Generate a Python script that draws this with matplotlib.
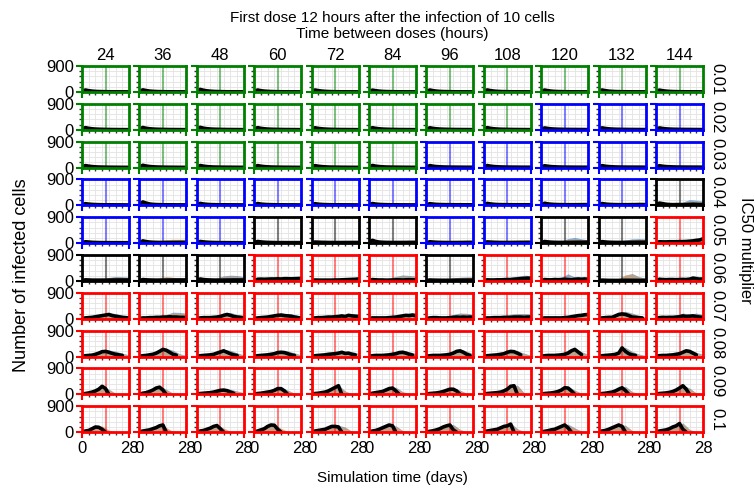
import numpy as np
import matplotlib
matplotlib.use("Agg")
import matplotlib.pyplot as plt
from matplotlib.ticker import MultipleLocator

plt.rcParams['font.family'] = ['Liberation Sans', 'DejaVu Sans']

# column / row categories
dose_interval = [24, 36, 48, 60, 72, 84, 96, 108, 120, 132, 144]
ic50_mult = ['0.01', '0.02', '0.03', '0.04', '0.05', '0.06', '0.07', '0.08', '0.09', '0.1']

# outcome class of each panel (frame colour): G green, B blue, K black, R red
outcome = [
    "GGGGGGGGGGG",
    "GGGGGGGGBBB",
    "GGGGGGBBBBB",
    "BBBBBBBBBBK",
    "BBBKKKBBKKR",
    "KKKRRRKRRKR",
    "RRRRRRRRRRR",
    "RRRRRRRRRRR",
    "RRRRRRRRRRR",
    "RRRRRRRRRRR",
]
outcome_colors = {'G': '#008000', 'B': '#0000ff', 'K': '#000000', 'R': '#ff0000'}

# median infected cells, sampled every 2 days (0..28); None = run ended
days_line = np.arange(0, 29, 2)
median_cells = [
    [[10,70,45,30,20,15,12,10,8,7,6,5,5,4,4],
     [10,75,50,32,22,16,12,10,8,7,6,5,5,4,4],
     [10,90,60,40,28,20,15,12,10,8,7,6,5,5,4],
     [10,70,45,30,22,16,12,10,8,7,6,5,5,4,4],
     [10,70,48,32,22,16,12,10,8,7,6,5,5,4,4],
     [10,65,45,30,20,15,12,10,8,7,6,5,5,4,4],
     [10,70,45,30,20,15,12,10,8,7,6,5,5,4,4],
     [10,72,48,32,22,16,12,10,8,7,6,5,5,4,4],
     [10,68,45,30,20,15,12,10,8,7,6,5,5,4,4],
     [10,70,46,30,21,15,12,10,8,7,6,5,5,4,4],
     [10,66,44,30,20,15,12,10,8,7,6,5,5,4,4]],
    [[10,75,50,35,25,20,16,13,11,9,8,7,6,5,5],
     [10,80,52,36,26,20,16,13,11,9,8,7,6,5,5],
     [10,85,55,38,27,21,17,14,12,10,9,8,7,6,5],
     [10,75,50,35,25,20,16,13,11,9,8,7,6,5,5],
     [10,70,48,34,25,19,15,12,10,9,8,7,6,5,5],
     [10,72,50,35,25,20,16,13,11,9,8,7,6,5,5],
     [10,70,48,34,25,20,16,13,11,10,9,8,7,6,6],
     [10,75,50,35,26,20,17,14,12,10,9,8,7,6,6],
     [10,65,45,32,25,20,17,15,13,12,11,10,9,8,8],
     [10,68,46,33,25,20,17,15,13,12,11,10,9,8,8],
     [10,66,45,32,25,20,17,15,13,12,11,10,9,8,8]],
    [[10,70,50,35,26,20,17,15,13,12,11,10,9,8,8],
     [10,80,55,38,28,22,18,15,13,12,11,10,9,8,8],
     [10,72,50,35,26,20,17,15,14,13,12,11,10,9,9],
     [10,70,48,34,26,20,17,15,13,12,11,10,9,8,8],
     [10,68,47,34,26,20,17,15,13,12,11,10,9,8,8],
     [10,75,50,36,27,21,18,16,14,13,12,11,10,9,9],
     [10,70,48,35,27,22,19,17,16,15,14,13,12,12,12],
     [10,72,50,36,28,23,20,18,17,16,15,14,13,13,13],
     [10,65,46,34,27,22,19,17,16,15,14,14,13,13,13],
     [10,68,47,35,28,23,20,18,17,16,16,15,15,14,14],
     [10,66,46,35,28,24,21,19,18,17,17,16,16,15,15]],
    [[10,60,45,35,28,25,22,20,20,19,18,18,17,16,16],
     [10,120,80,50,35,28,25,22,20,20,19,18,18,17,17],
     [10,70,48,36,28,25,22,20,20,19,18,18,17,16,16],
     [10,65,45,35,28,25,22,20,20,19,18,18,17,16,16],
     [10,60,42,33,27,24,22,20,20,19,18,18,17,16,16],
     [10,65,45,35,28,25,22,20,20,19,18,18,17,16,16],
     [10,60,45,35,30,27,25,24,23,22,22,21,21,20,20],
     [10,70,50,38,30,27,25,24,23,22,22,22,22,22,22],
     [10,75,52,40,32,28,26,25,24,24,24,25,26,26,26],
     [10,65,46,36,30,27,25,24,24,25,26,27,28,28,28],
     [10,80,60,40,30,25,28,30,25,30,35,40,35,30,30]],
    [[10,50,40,30,25,22,20,20,19,18,18,18,17,17,17],
     [10,80,55,40,32,28,26,25,25,25,26,27,28,28,28],
     [10,60,45,35,28,25,22,20,20,19,18,18,17,17,17],
     [10,60,45,35,28,25,22,20,20,20,20,20,20,20,20],
     [10,40,35,30,28,25,24,23,23,23,24,24,25,25,25],
     [10,100,60,40,32,28,26,25,25,25,26,26,27,27,27],
     [10,50,40,32,28,25,24,23,23,24,25,26,27,28,28],
     [10,45,38,32,28,26,25,25,26,27,28,30,30,32,32],
     [10,60,45,35,30,28,27,27,28,30,32,33,34,35,35],
     [10,55,42,34,30,28,27,27,28,30,32,34,35,36,36],
     [10,50,45,45,50,50,50,55,55,60,70,80,100,110,150]],
    [[10,40,35,30,30,30,30,30,32,34,35,36,36,36,36],
     [10,50,40,35,32,30,30,30,32,34,35,35,36,36,36],
     [10,70,50,40,35,32,30,30,32,34,35,36,36,36,36],
     [10,60,65,60,65,70,70,75,70,80,80,75,80,85,90],
     [10,35,30,30,30,30,30,35,35,40,45,50,55,60,70],
     [10,50,40,35,35,30,30,35,40,40,35,40,45,40,40],
     [10,35,30,28,26,25,25,26,28,30,30,32,32,32,32],
     [10,40,35,35,40,40,45,50,50,60,70,80,90,100,90],
     [10,50,40,40,50,45,50,60,50,40,60,70,60,70,60],
     [10,30,25,22,20,20,20,22,25,25,24,24,22,22,22],
     [10,60,50,45,50,50,45,50,55,50,60,100,80,60,70]],
    [[10,30,40,50,70,90,110,130,150,110,90,70,50,40,30],
     [10,30,30,40,40,50,50,60,60,70,60,60,50,50,40],
     [10,30,40,40,40,50,60,80,120,150,120,80,60,50,40],
     [10,30,40,50,60,80,100,120,130,110,100,90,60,40,30],
     [10,30,40,40,50,60,60,70,80,100,80,120,100,90,80],
     [10,30,30,30,30,30,40,50,60,80,100,120,110,130,100],
     [10,30,40,40,30,30,30,40,50,60,50,60,50,60,50],
     [10,30,30,40,40,40,50,50,50,60,60,60,50,60,60],
     [10,30,30,30,30,30,30,40,50,70,90,110,120,140,150],
     [10,30,40,50,50,100,150,170,150,110,60,50,40,30],
     [10,40,50,45,50,50,60,70,100,80,90,100,80,60,50]],
    [[10,30,40,50,80,120,170,180,150,110,80,60,40],
     [10,30,40,60,80,120,180,250,220,150,80,50],
     [10,30,40,50,60,80,120,160,200,150,100,60,40],
     [10,30,40,50,60,80,100,140,150,140,100,60,40],
     [10,30,40,50,60,80,90,100,120,150,110,120,80,60],
     [10,30,40,40,40,50,60,80,100,140,150,120,80,50],
     [10,30,40,40,40,50,60,80,120,180,200,150,80,40],
     [10,30,40,50,60,80,100,150,180,170,120,60],
     [10,30,40,40,40,50,60,80,120,200,250,160,70],
     [10,30,40,50,60,80,120,300,180,100,60,40],
     [10,30,40,40,50,60,80,100,150,200,180,120,60]],
    [[10,30,50,80,120,180,280,200,0],
     [10,40,60,100,150,220,250,150,0],
     [10,30,40,50,60,80,110,140,150,130,80,40],
     [10,30,40,60,80,100,140,200,200,120,0],
     [10,30,40,60,80,120,180,240,300,0],
     [10,40,60,80,100,150,200,220,120,0],
     [10,30,40,50,70,100,140,180,180,120,0],
     [10,30,40,50,60,80,120,180,280,300,0],
     [10,30,40,50,70,100,150,230,220,120,0],
     [10,30,40,60,80,120,180,230,130,0],
     [10,30,40,50,70,100,150,220,300,180,0]],
    [[10,40,60,120,180,170,100,0],
     [10,40,60,80,120,160,220,250,0],
     [10,40,60,100,140,200,230,120,0],
     [10,40,80,120,200,250,240,100,0],
     [10,40,60,80,100,150,200,200,180,0],
     [10,40,60,100,150,200,250,220,0],
     [10,30,50,80,120,180,220,250,80,0],
     [10,40,60,80,100,150,200,220,280,0],
     [10,30,50,80,100,150,200,250,150,0],
     [10,40,60,100,150,200,250,200,0],
     [10,40,60,80,120,180,220,300,100,0]],
]

# upper edge of the two spread bands, sampled every 4 days (0..28)
days_band = np.arange(0, 29, 4)
blue_upper = [
    [[15,60,35,25,18,14,12,10],[15,65,38,26,18,14,12,10],[15,70,40,28,20,15,12,10],
     [15,60,35,25,18,14,12,10],[15,60,36,25,18,14,12,10],[15,58,34,24,18,14,12,10],
     [15,60,35,25,18,14,12,10],[15,62,36,25,18,14,12,10],[15,58,35,25,18,14,12,10],
     [15,60,35,25,18,14,12,10],[15,58,34,24,18,14,12,10]],
    [[15,62,38,28,22,18,15,12],[15,66,40,28,22,18,15,12],[15,70,42,30,22,18,15,12],
     [15,62,38,28,22,18,15,12],[15,60,36,27,21,17,14,12],[15,62,38,28,22,18,15,12],
     [15,60,37,28,22,18,15,13],[15,62,38,28,22,18,16,14],[15,58,36,30,26,24,22,20],
     [15,60,36,30,26,24,22,20],[15,58,36,30,26,24,22,20]],
    [[15,60,38,30,24,20,18,16],[15,66,42,32,25,21,18,16],[15,50,30,25,30,80,30,15],
     [15,60,38,30,24,20,18,16],[15,58,37,30,24,20,18,16],[15,62,40,31,25,21,19,17],
     [15,55,35,30,35,40,40,40],[15,58,36,32,36,42,42,40],[15,55,35,30,35,40,42,42],
     [15,56,36,32,38,44,44,42],[15,55,36,32,38,44,46,44]],
    [[15,70,50,50,60,60,50,40],[15,120,60,45,40,45,45,40],[15,70,45,40,40,45,45,40],
     [15,68,45,40,40,45,45,40],[15,65,44,40,40,45,45,40],[15,68,45,40,42,46,45,40],
     [15,62,44,42,45,50,52,50],[15,60,40,40,50,70,90,100],[15,60,40,45,60,80,100,110],
     [15,60,40,45,70,90,110,100],[15,90,60,60,120,200,180,150]],
    [[15,60,50,50,60,60,55,50],[15,90,60,80,110,120,120,120],[15,70,50,45,50,55,55,50],
     [15,70,50,70,100,90,60,60],[15,50,40,50,70,80,90,80],[15,110,60,60,70,90,100,100],
     [15,60,50,60,70,90,100,100],[15,55,45,50,60,80,90,90],[15,70,60,80,160,200,150,120],
     [15,65,55,70,110,150,160,150],[15,70,70,80,90,110,160,230]],
    [[15,60,60,80,120,160,150,130],[15,70,60,100,140,120,100,90],[15,80,60,100,180,200,190,150],
     [15,90,110,120,120,130,140,140],[15,50,50,60,70,90,110,130],[15,70,70,100,160,210,190,170],
     [15,55,50,60,100,130,140,140],[15,60,70,90,130,170,200,190],[15,80,80,130,250,130,140,120],
     [15,50,50,80,200,260,150,100],[15,90,80,90,110,150,170,140]],
    [[15,60,90,150,220,180,120,70],[15,60,70,90,150,230,220,200],[15,60,70,100,170,220,150,100],
     [15,60,90,150,200,180,150,90],[15,60,70,100,130,150,180,150],[15,50,50,70,100,160,200,210],
     [15,60,60,80,150,200,190,150],[15,50,60,80,160,180,180,170],[15,50,50,60,90,140,190,220],
     [15,60,80,180,260,200,110,70],[15,80,80,110,200,160,200,150]],
    [[15,60,110,220,230,190,120,60],[15,60,110,230,290,220,100,40],[15,60,90,160,250,220,130,60],
     [15,60,100,160,200,200,130,60],[15,60,90,130,170,180,170,120],[15,50,70,100,160,220,170,110],
     [15,50,70,110,200,260,190,100],[15,60,90,160,220,200,120,50],[15,50,70,110,230,280,170,80],
     [15,60,100,200,320,180,90,40],[15,50,80,130,220,240,150,80]],
    [[15,70,140,320,180,40,0,0],[15,80,160,300,180,40,0,0],[15,60,90,160,200,180,120,60],
     [15,70,110,180,250,150,40,0],[15,70,110,200,330,120,20,0],[15,80,130,240,250,100,20,0],
     [15,70,100,170,220,150,40,0],[15,60,90,150,290,320,60,0],[15,60,100,200,270,150,40,0],
     [15,70,110,220,280,100,20,0],[15,60,100,180,320,220,50,0]],
    [[15,80,210,200,60,0,0,0],[15,80,140,260,150,20,0,0],[15,80,150,260,130,20,0,0],
     [15,90,220,280,120,20,0,0],[15,80,120,200,240,180,30,0],[15,80,160,260,220,60,0,0],
     [15,70,130,230,270,100,10,0],[15,80,130,220,320,120,20,0],[15,70,130,230,280,150,40,0],
     [15,80,150,260,240,60,0,0],[15,80,130,240,320,100,10,0]],
]
orange_upper = [
    [[12,45,28,20,14,10,8,6],[12,48,30,20,14,10,8,6],[12,52,32,22,15,11,8,6],
     [12,45,28,20,14,10,8,6],[12,46,28,20,14,10,8,6],[12,44,27,19,14,10,8,6],
     [12,45,28,20,14,10,8,6],[12,46,28,20,14,10,8,6],[12,44,28,20,14,10,8,6],
     [12,45,28,20,14,10,8,6],[12,44,27,19,14,10,8,6]],
    [[12,48,30,22,17,14,12,10],[12,50,32,22,17,14,12,10],[12,54,33,24,18,14,12,10],
     [12,48,30,22,17,14,12,10],[12,46,29,21,16,13,11,10],[12,48,30,22,17,14,12,10],
     [12,46,30,22,17,14,12,11],[12,48,30,22,17,14,13,12],[12,45,29,24,21,19,18,17],
     [12,46,29,24,21,19,18,17],[12,45,29,24,21,19,18,17]],
    [[12,46,30,24,19,16,15,13],[12,50,33,25,20,17,15,13],[12,40,25,20,22,45,22,12],
     [12,46,30,24,19,16,15,13],[12,45,29,24,19,16,15,13],[12,48,32,25,20,17,16,14],
     [12,45,30,25,28,30,30,30],[12,46,30,26,29,32,32,30],[12,44,29,25,28,31,32,32],
     [12,45,30,26,30,33,33,32],[12,44,30,26,30,33,34,33]],
    [[12,55,40,40,45,45,40,35],[12,100,50,40,35,40,40,35],[12,55,35,30,30,35,35,30],
     [12,54,35,30,30,35,35,30],[12,52,34,30,30,35,35,30],[12,54,35,30,32,36,35,30],
     [12,50,35,33,35,40,42,40],[12,50,35,35,45,60,80,90],[12,50,35,40,50,70,90,100],
     [12,50,35,40,60,80,90,90],[12,70,50,50,90,140,120,100]],
    [[12,50,40,40,45,45,45,40],[12,70,60,90,120,140,140,140],[12,55,40,40,45,45,45,40],
     [12,55,45,60,80,70,50,50],[12,45,35,45,60,70,80,70],[12,90,50,55,60,80,100,110],
     [12,50,40,50,60,80,90,90],[12,45,40,45,50,70,80,80],[12,55,50,60,120,140,120,100],
     [12,55,45,60,90,120,130,120],[12,60,60,70,80,100,140,200]],
    [[12,55,55,70,110,140,130,120],[12,60,60,110,160,130,100,90],[12,70,55,90,150,160,150,130],
     [12,80,100,110,110,120,130,130],[12,45,45,55,60,80,100,120],[12,60,60,90,140,170,160,150],
     [12,50,45,55,90,120,130,130],[12,55,60,80,120,150,180,170],[12,70,70,110,150,120,120,110],
     [12,45,45,90,220,240,130,90],[12,80,70,80,100,130,150,130]],
    [[12,55,80,140,200,160,110,60],[12,55,60,80,140,200,190,170],[12,55,60,90,150,190,130,90],
     [12,55,80,140,180,160,130,80],[12,55,60,90,120,130,160,130],[12,45,45,60,90,140,180,190],
     [12,55,55,70,130,170,170,130],[12,45,55,70,140,160,160,150],[12,45,45,55,80,120,170,200],
     [12,55,70,160,230,180,90,50],[12,70,70,100,170,140,170,130]],
    [[12,55,100,200,210,170,100,50],[12,55,100,210,260,190,80,30],[12,55,80,140,230,200,110,50],
     [12,55,90,140,180,180,110,50],[12,55,80,120,150,160,150,100],[12,45,60,90,140,200,150,90],
     [12,45,60,100,180,240,170,80],[12,55,80,140,200,180,100,40],[12,45,60,100,200,250,150,60],
     [12,55,90,180,280,160,70,30],[12,45,70,120,200,220,130,60]],
    [[12,60,120,290,160,30,0,0],[12,70,140,270,160,30,0,0],[12,55,80,140,180,160,100,50],
     [12,60,100,160,230,130,30,0],[12,60,100,180,300,100,15,0],[12,70,120,220,230,80,15,0],
     [12,60,90,150,200,130,30,0],[12,55,80,130,260,300,50,0],[12,55,90,180,250,130,30,0],
     [12,60,100,200,250,80,15,0],[12,55,90,160,290,200,40,0]],
    [[12,70,190,220,80,0,0,0],[12,70,130,240,170,30,0,0],[12,70,140,240,150,30,0,0],
     [12,80,200,260,140,30,0,0],[12,70,110,180,220,160,20,0],[12,70,150,240,200,50,0,0],
     [12,60,120,210,250,90,10,0],[12,70,120,200,300,100,15,0],[12,60,120,210,260,130,30,0],
     [12,70,140,240,220,50,0,0],[12,70,120,220,300,80,10,0]],
]

W, H = 755, 488
fig = plt.figure(figsize=(W / 100, H / 100), dpi=100)

x0, y0 = 82, 66        # top-left of first panel (px)
pw, ph = 47, 26        # panel size (px)
dx, dy = 57.4, 37.8    # panel spacing (px)

for r in range(len(ic50_mult)):
    for c in range(len(dose_interval)):
        col = outcome_colors[outcome[r][c]]
        left = (x0 + c * dx) / W
        bottom = (H - (y0 + r * dy + ph)) / H
        ax = fig.add_axes([left, bottom, pw / W, ph / H])

        med = median_cells[r][c]
        med = np.array(med + [None] * (len(days_line) - len(med)), dtype=float)

        ax.fill_between(days_band, 0, blue_upper[r][c], color='#3d7ab5', alpha=0.6, lw=0)
        ax.fill_between(days_band, 0, orange_upper[r][c], color='#f29a45', alpha=0.5, lw=0)
        ax.axvline(14, color=col, alpha=0.5, lw=1.5)
        ax.plot(days_line, med, color='k', lw=2.6, solid_capstyle='round')

        ax.set_xlim(0, 28)
        ax.set_ylim(0, 900)
        ax.set_xticks([0, 28])
        ax.set_yticks([0, 900])
        ax.xaxis.set_minor_locator(MultipleLocator(4))
        ax.yaxis.set_minor_locator(MultipleLocator(180))
        ax.grid(which='both', color='#e3e3e3', lw=0.6)
        ax.set_axisbelow(True)
        for sp in ax.spines.values():
            sp.set_color(col)
            sp.set_linewidth(2)
        ax.tick_params(which='major', color=col, width=1.5, length=4, labelsize=12, pad=2)
        ax.tick_params(which='minor', color='#333333', width=1, length=2.5)
        ax.tick_params(labelleft=(c == 0), labelbottom=(r == len(ic50_mult) - 1))

        if r == 0:
            ax.text(0.5, 1.12, str(dose_interval[c]), transform=ax.transAxes,
                    ha='center', va='bottom', fontsize=12)
        if c == len(dose_interval) - 1:
            ax.text(1.14, 0.5, ic50_mult[r], transform=ax.transAxes,
                    ha='left', va='center', rotation=-90, fontsize=12)

cx = (x0 + 10 * dx + pw + x0) / 2 / W
fig.text(cx, 1 - 18 / H, "First dose 12 hours after the infection of 10 cells",
         ha='center', va='center', fontsize=11)
fig.text(cx, 1 - 34 / H, "Time between doses (hours)", ha='center', va='center', fontsize=11)
fig.text(cx, 1 - 478 / H, "Simulation time (days)", ha='center', va='center', fontsize=11)
fig.text(22 / W, 1 - 275 / H, "Number of infected cells", ha='center', va='center',
         rotation=90, fontsize=13)
fig.text(745 / W, 1 - 250 / H, "IC50 multiplier", ha='center', va='center',
         rotation=-90, fontsize=12)

fig.savefig("out.png", dpi=100)
